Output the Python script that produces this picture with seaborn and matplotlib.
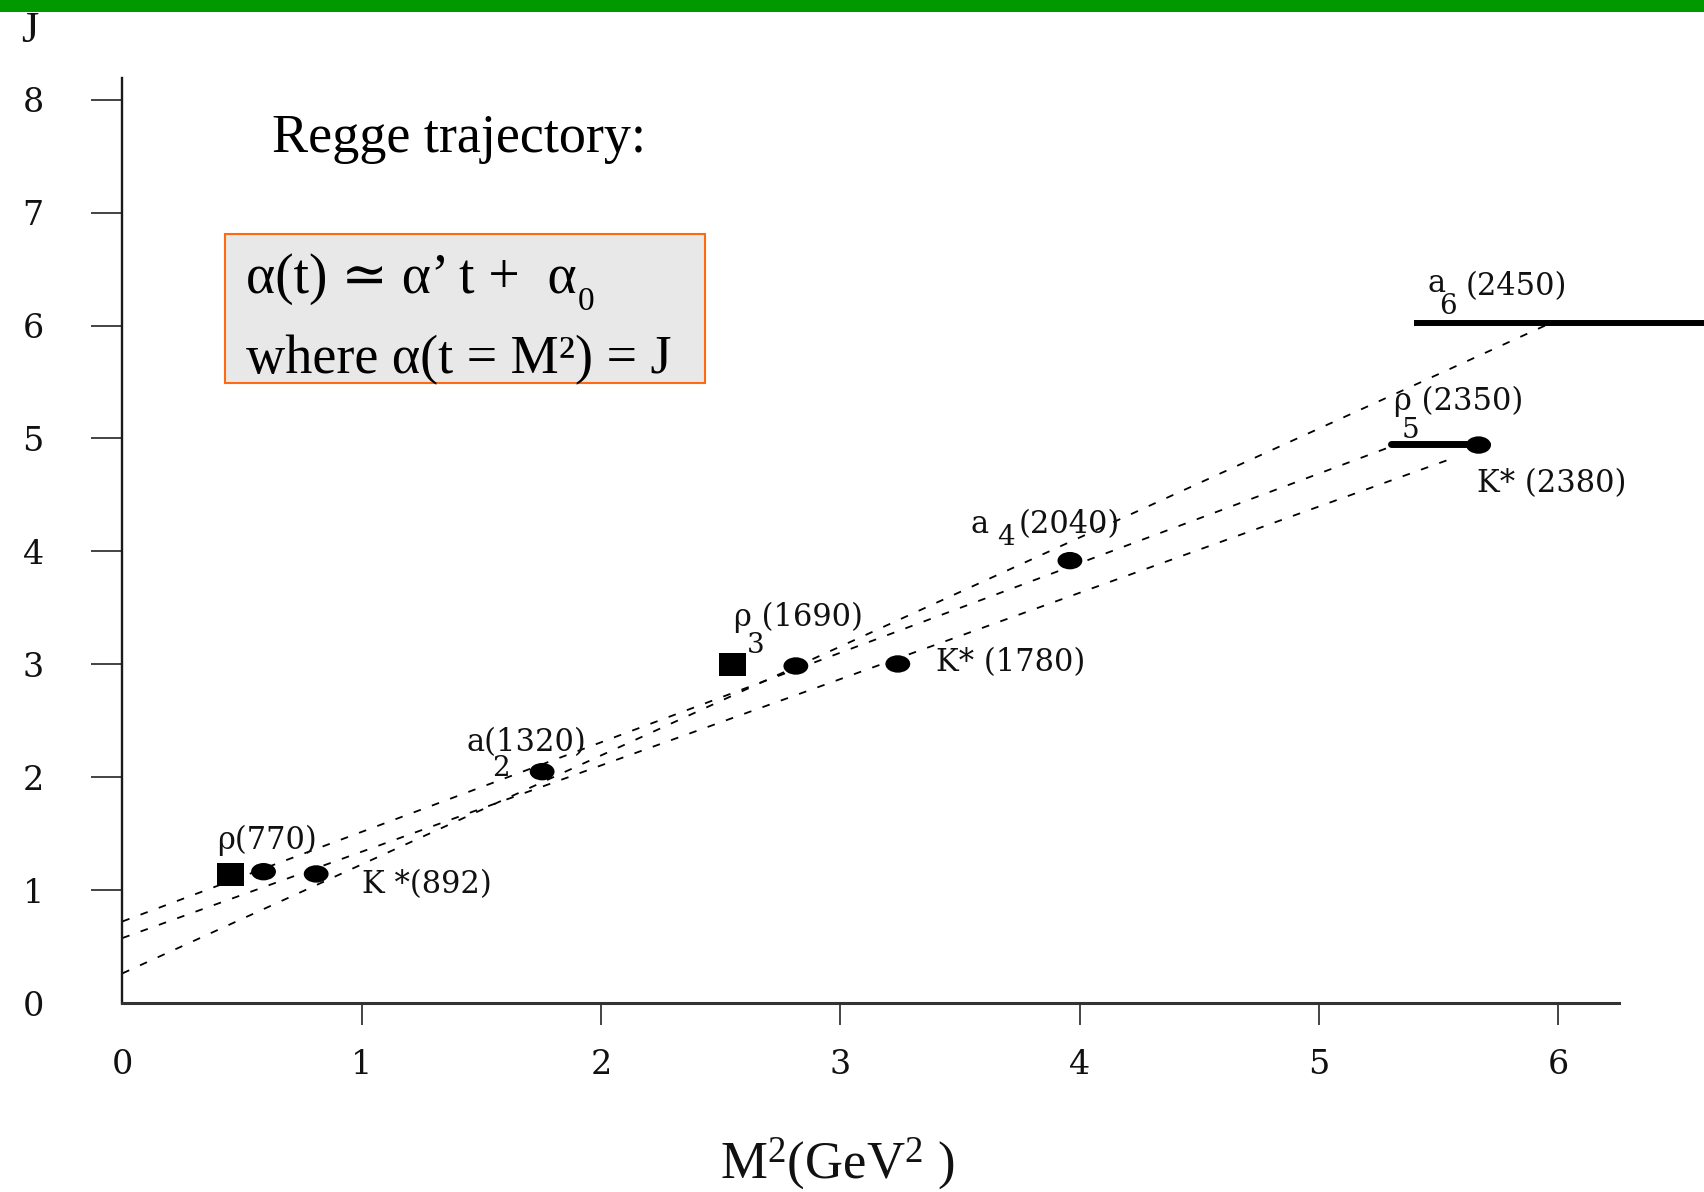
import matplotlib
matplotlib.use("Agg")
import matplotlib.pyplot as plt
from matplotlib.path import Path
from matplotlib.patches import Rectangle
import seaborn as sns

# ---- resonances (x = M^2 in GeV^2, y = spin J) ----
circle_m2 = [0.590, 0.810, 1.754, 2.814, 3.240, 3.959, 5.666]
circle_j = [1.163, 1.143, 2.049, 2.985, 3.003, 3.918, 4.942]

square_m2 = [0.452, 2.549]
square_j = [1.138, 2.994]

# horizontal bars for rho5(2350) and a6(2450)
bar_m2_lo = [5.299, 5.397]
bar_m2_hi = [5.702, 6.607]
bar_j = [4.951, 6.020]

# straight-line trajectories (rho, K*, a): start and end points
traj_m2_start = [0.0, 0.0, 0.0]
traj_j_start = [0.722, 0.575, 0.262]
traj_m2_end = [5.299, 5.549, 5.965]
traj_j_end = [4.927, 4.818, 6.020]

x_ticks = [0, 1, 2, 3, 4, 5, 6]
y_ticks = [0, 1, 2, 3, 4, 5, 6, 7, 8]

# particle labels: (text, x, y, is_subscript)
labels = [
    ("ρ(770)", 0.395, 1.444, False),
    ("K *(892)", 1.000, 1.045, False),
    ("a(1320)", 1.440, 2.303, False),
    ("2", 1.582, 2.075, True),
    ("ρ (1690)", 2.556, 3.419, False),
    ("3", 2.648, 3.165, True),
    ("K* (1780)", 3.400, 3.012, False),
    ("a", 3.545, 4.234, False),
    ("4", 3.690, 4.120, True),
    ("(2040)", 3.745, 4.234, False),
    ("a", 5.452, 6.370, False),
    ("6", 5.540, 6.170, True),
    ("(2450)", 5.611, 6.342, False),
    ("ρ (2350)", 5.315, 5.330, False),
    ("5", 5.380, 5.075, True),
    ("K* (2380)", 5.661, 4.597, False),
]

sns.set_style("white")
plt.rcParams["font.family"] = ["DejaVu Serif", "DejaVu Sans"]
plt.rcParams["mathtext.fontset"] = "custom"
plt.rcParams["mathtext.rm"] = "Liberation Serif"
plt.rcParams["mathtext.it"] = "Liberation Serif:italic"
plt.rcParams["mathtext.default"] = "rm"
plt.rcParams["lines.scale_dashes"] = False

W, H = 1704, 1192
fig = plt.figure(figsize=(W / 100, H / 100), dpi=100)
fig.patch.set_facecolor("white")
ax = fig.add_axes([122.3 / W, 1 - 1003 / H, (1619 - 122.3) / W, (1003 - 78) / H])
ax.set_facecolor("white")
ax.set_xlim(0.0167, 6.253)
ax.set_ylim(0, 8.193)

# trajectories
for xs, ys, xe, ye in zip(traj_m2_start, traj_j_start, traj_m2_end, traj_j_end):
    sns.lineplot(x=[xs, xe], y=[ys, ye], ax=ax, color="black", lw=1.3,
                 linestyle=(0, (5.5, 8.5)), clip_on=False, zorder=2)

# markers
circ = Path.unit_circle()
ellipse = Path(circ.vertices * [1.0, 0.7], circ.codes)
rect = Path([(-1, -0.86), (1, -0.86), (1, 0.86), (-1, 0.86), (-1, -0.86)],
            [Path.MOVETO, Path.LINETO, Path.LINETO, Path.LINETO, Path.CLOSEPOLY])
sns.scatterplot(x=circle_m2, y=circle_j, marker=ellipse, s=320, color="black",
                edgecolor="none", ax=ax, zorder=4, clip_on=False)
sns.scatterplot(x=square_m2, y=square_j, marker=rect, s=370, color="black",
                edgecolor="none", ax=ax, zorder=4, clip_on=False)

# width bars
ax.hlines(bar_j[0], bar_m2_lo[0], bar_m2_hi[0], color="black", lw=5.0,
          capstyle="round", zorder=3, clip_on=False)
ax.hlines(bar_j[1], bar_m2_lo[1], bar_m2_hi[1], color="black", lw=4.3,
          zorder=3, clip_on=False)

# particle labels
for txt, x, y, sub in labels:
    ax.text(x, y, txt, fontsize=20 if sub else 22,
            family=["DejaVu Serif", "DejaVu Sans"],
            ha="center" if sub else "left", va="center", color="#111111",
            zorder=5, clip_on=False)

# axes styling
for side in ("top", "right"):
    ax.spines[side].set_visible(False)
ax.spines["left"].set_linewidth(1.7)
ax.spines["bottom"].set_linewidth(2.2)
ax.spines["left"].set_color("#1a1a1a")
ax.spines["bottom"].set_color("#333333")

ax.set_xticks(x_ticks)
ax.set_yticks(y_ticks)
ax.set_xticklabels([str(v) for v in x_ticks])
ax.set_yticklabels([str(v) for v in y_ticks])
ax.tick_params(axis="y", left=True, length=22.3, width=1.1, pad=34.3,
               labelsize=24, colors="#111111", direction="out")
ax.tick_params(axis="x", bottom=True, length=15.8, width=1.1, pad=17.3,
               labelsize=24, colors="#111111", direction="out")
ax.xaxis.get_major_ticks()[0].tick1line.set_visible(False)
ax.yaxis.get_major_ticks()[0].tick1line.set_visible(False)

ax.set_xlabel("M$^2$(GeV$^2$ )", fontsize=38, family="Liberation Serif",
              color="#111111")
ax.xaxis.set_label_coords(0.4775, -0.174)
ax.xaxis.label.set_va("center")
ax.set_ylabel("J", rotation=0, fontsize=32, family="Liberation Serif",
              color="#111111")
ax.yaxis.set_label_coords(-0.0620, 1.039)
ax.yaxis.label.set_va("baseline")
ax.yaxis.label.set_ha("center")

# slide header bar
fig.add_artist(Rectangle((0, 1 - 11.7 / H), 1, 11.7 / H, transform=fig.transFigure,
                         facecolor="#009a00", edgecolor="none", zorder=10))

# title and formula box
serif = ["Liberation Serif", "DejaVu Serif", "DejaVu Sans"]
fig.text(272 / W, 1 - 152 / H, "Regge trajectory:", fontsize=39, family=serif,
         va="baseline", ha="left", color="black", zorder=6)
fig.add_artist(Rectangle((224.6 / W, 1 - 383.3 / H), (705 - 224.6) / W,
                         (383.3 - 234.3) / H, transform=fig.transFigure,
                         facecolor="#e8e8e8", edgecolor="#ff6a10", lw=1.5, zorder=5))
line1 = fig.text(245.5 / W, 1 - 293 / H, "α(t) ≃ α’ t +  α", fontsize=40,
                 family=serif, va="baseline", ha="left", color="black", zorder=6)
fig.text(245.5 / W, 1 - 373 / H, "where α(t = M²) = J", fontsize=39,
         family=serif, va="baseline", ha="left", color="black", zorder=6)

fig.canvas.draw()
bb = line1.get_window_extent(renderer=fig.canvas.get_renderer())
fig.text((bb.x1 + 2) / W, 1 - 310 / H, "0", fontsize=24, family=serif,
         va="baseline", ha="left", color="black", zorder=6)

fig.savefig("out.png", dpi=100, facecolor="white")
